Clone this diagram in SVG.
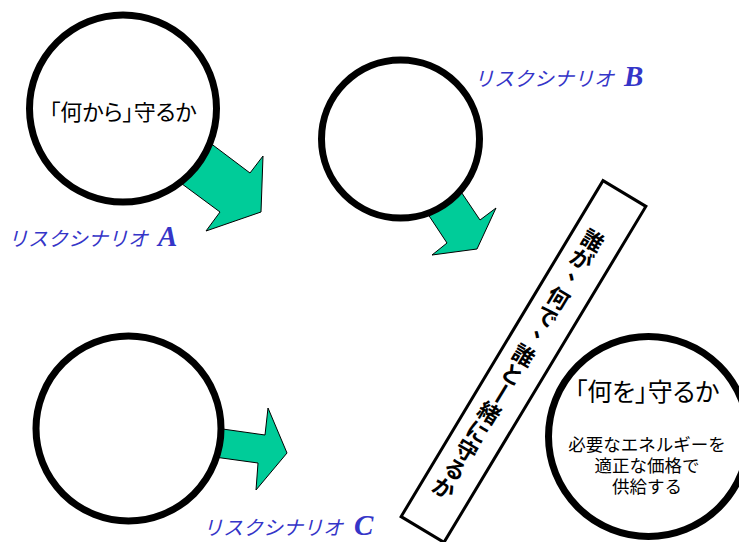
<svg xmlns="http://www.w3.org/2000/svg" width="739" height="542" viewBox="0 0 739 542">
<style>
.arrow{fill:#00cc99;stroke:#000;stroke-width:1;stroke-linejoin:miter}
.ring{fill:#fff;stroke:#000;stroke-width:7}
.jp{font-family:"Noto Sans CJK JP","Noto Sans",sans-serif;fill:#000}
.palt{font-feature-settings:"palt"}
.lbl{font-family:"Noto Sans CJK JP",sans-serif;font-style:italic;fill:#3535c8;font-size:20px}
.big{font-family:"Liberation Serif",serif;font-style:italic;font-weight:bold;fill:#3535c8;font-size:29px}
.st{font-family:"Noto Sans CJK JP",sans-serif;font-weight:bold;font-size:22px;text-anchor:middle;fill:#000}
</style>
<rect width="739" height="542" fill="#fff"/>
<g id="connectors">
<polygon class="arrow" points="181,121 250,173 263,156 261,212 206,231 220,212 151,161"/>
<polygon class="arrow" points="441,162 480,220 496,208 477,249 432,255 447,243 408,184"/>
<polygon class="arrow" points="180,423 265,435 268,408 287,453 256,490 258,463 178,452"/>
</g>
<g id="scenarioA">
<circle class="ring" cx="123" cy="108.5" r="93.5"/>
<text class="jp palt" x="123" y="120" font-size="22" text-anchor="middle">「何から」守るか</text>
<text x="8" y="246"><tspan class="lbl">リスクシナリオ</tspan><tspan class="big" dx="10">A</tspan></text>
</g>
<g id="scenarioB">
<circle class="ring" cx="400.5" cy="139" r="79"/>
<text x="474" y="86"><tspan class="lbl">リスクシナリオ</tspan><tspan class="big" dx="10">B</tspan></text>
</g>
<g id="scenarioC">
<circle class="ring" cx="128.5" cy="428.5" r="92.5"/>
<text x="203" y="535"><tspan class="lbl">リスクシナリオ</tspan><tspan class="big" dx="11">C</tspan></text>
</g>
<g id="strip">
<g transform="translate(523.5,361.5) rotate(31)">
<rect x="-25" y="-196" width="50" height="392" fill="#fff" stroke="#000" stroke-width="3"/>
<text class="st" x="-3" y="-131">誰</text>
<text class="st" x="-3" y="-109">が</text>
<text class="st" x="4" y="-95">、</text>
<text class="st" x="-3" y="-64">何</text>
<text class="st" x="-3" y="-42">で</text>
<text class="st" x="4" y="-28">、</text>
<text class="st" x="-3" y="3">誰</text>
<text class="st" x="-3" y="25">と</text>
<text class="st" transform="translate(-3,39) rotate(90)" x="0" y="8">一</text>
<text class="st" x="-3" y="70">緒</text>
<text class="st" x="-3" y="92">に</text>
<text class="st" x="-3" y="114">守</text>
<text class="st" x="-3" y="136">る</text>
<text class="st" x="-3" y="158">か</text>
</g>
</g>
<g id="whatToProtect">
<circle class="ring" cx="648.5" cy="436.5" r="100"/>
<text class="jp palt" x="647" y="401" font-size="25" text-anchor="middle">「何を」守るか</text>
<text class="jp" font-size="17.5" text-anchor="middle"><tspan x="647" y="451">必要なエネルギーを</tspan><tspan x="647" y="472">適正な価格で</tspan><tspan x="647" y="493">供給する</tspan></text>
</g>
</svg>
